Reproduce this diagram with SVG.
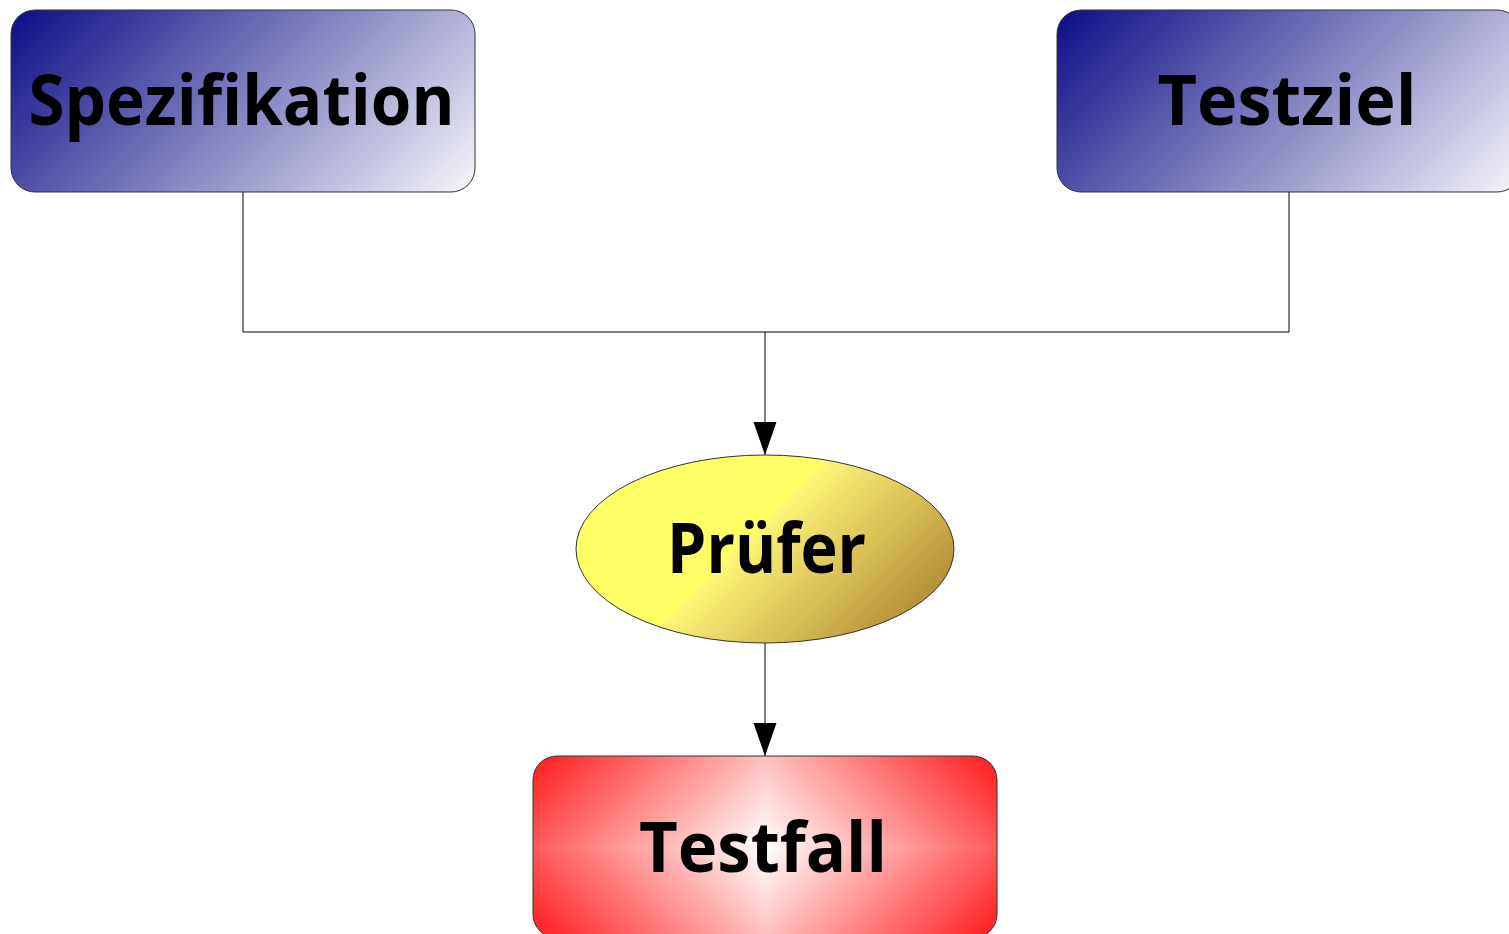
<svg xmlns="http://www.w3.org/2000/svg" width="1509" height="934" viewBox="0 0 1509 934">
<style>
.box{stroke:#333;stroke-width:1}
.lbl{font-family:"Open Sans","DejaVu Sans",sans-serif;font-weight:bold;font-size:70px;fill:#000;text-anchor:middle}
.con{stroke:#000;stroke-width:1;fill:none}
</style>
<defs>
<linearGradient id="gBlueL" gradientUnits="userSpaceOnUse" x1="81.5" y1="-60.5" x2="404.5" y2="262.5">
<stop offset="0" stop-color="#0c0c86"/><stop offset="1" stop-color="#f6f6fa"/>
</linearGradient>
<linearGradient id="gBlueR" gradientUnits="userSpaceOnUse" x1="1127.5" y1="-60.5" x2="1450.5" y2="262.5">
<stop offset="0" stop-color="#0c0c86"/><stop offset="1" stop-color="#f6f6fa"/>
</linearGradient>
<linearGradient id="gYel" gradientUnits="userSpaceOnUse" x1="659.5" y1="443.5" x2="870.5" y2="654.5">
<stop offset="0" stop-color="#ffff66"/><stop offset="0.43" stop-color="#ffff66"/><stop offset="0.44" stop-color="#fcf677"/><stop offset="1" stop-color="#b8903a"/>
</linearGradient>
<linearGradient id="gR1" gradientUnits="userSpaceOnUse" x1="765" y1="847" x2="926.5" y2="1008.5">
<stop offset="0" stop-color="#ffffff"/><stop offset="1" stop-color="#ff1a1a"/>
</linearGradient>
<linearGradient id="gR2" gradientUnits="userSpaceOnUse" x1="765" y1="847" x2="603.5" y2="1008.5">
<stop offset="0" stop-color="#ffffff"/><stop offset="1" stop-color="#ff1a1a"/>
</linearGradient>
<linearGradient id="gR3" gradientUnits="userSpaceOnUse" x1="765" y1="847" x2="603.5" y2="685.5">
<stop offset="0" stop-color="#ffffff"/><stop offset="1" stop-color="#ff1a1a"/>
</linearGradient>
<linearGradient id="gR4" gradientUnits="userSpaceOnUse" x1="765" y1="847" x2="926.5" y2="685.5">
<stop offset="0" stop-color="#ffffff"/><stop offset="1" stop-color="#ff1a1a"/>
</linearGradient>
<clipPath id="cRed"><rect x="533" y="756" width="464" height="182" rx="24" ry="24"/></clipPath>
<marker id="arr" markerUnits="userSpaceOnUse" markerWidth="34" markerHeight="24" refX="33" refY="11.5" orient="auto">
<path d="M0,0 L33,11.5 L0,23 Z" fill="#000"/>
</marker>
</defs>
<g id="connectors">
<polyline class="con" points="243,192 243,332 1289,332 1289,192"/>
<line class="con" x1="765" y1="332" x2="765" y2="455" marker-end="url(#arr)"/>
<line class="con" x1="765" y1="643" x2="765" y2="756" marker-end="url(#arr)"/>
</g>
<g id="spezifikation">
<rect class="box" x="11" y="10" width="464" height="182" rx="24" ry="24" fill="url(#gBlueL)"/>
<text class="lbl" x="241.5" y="125" textLength="426" lengthAdjust="spacingAndGlyphs">Spezifikation</text>
</g>
<g id="testziel">
<rect class="box" x="1057" y="10" width="464" height="182" rx="24" ry="24" fill="url(#gBlueR)"/>
<text class="lbl" x="1287" y="125" textLength="259" lengthAdjust="spacingAndGlyphs">Testziel</text>
</g>
<g id="pruefer">
<ellipse class="box" cx="765" cy="549" rx="189" ry="94" fill="url(#gYel)"/>
<text class="lbl" x="766.5" y="573" textLength="199" lengthAdjust="spacingAndGlyphs">Prüfer</text>
</g>
<g id="testfall">
<g clip-path="url(#cRed)">
<rect x="765" y="847" width="232" height="91" fill="url(#gR1)"/>
<rect x="533" y="847" width="232" height="91" fill="url(#gR2)"/>
<rect x="533" y="756" width="232" height="91" fill="url(#gR3)"/>
<rect x="765" y="756" width="232" height="91" fill="url(#gR4)"/>
</g>
<rect class="box" x="533" y="756" width="464" height="182" rx="24" ry="24" fill="none"/>
<text class="lbl" x="763" y="872" textLength="248" lengthAdjust="spacingAndGlyphs">Testfall</text>
</g>
</svg>
